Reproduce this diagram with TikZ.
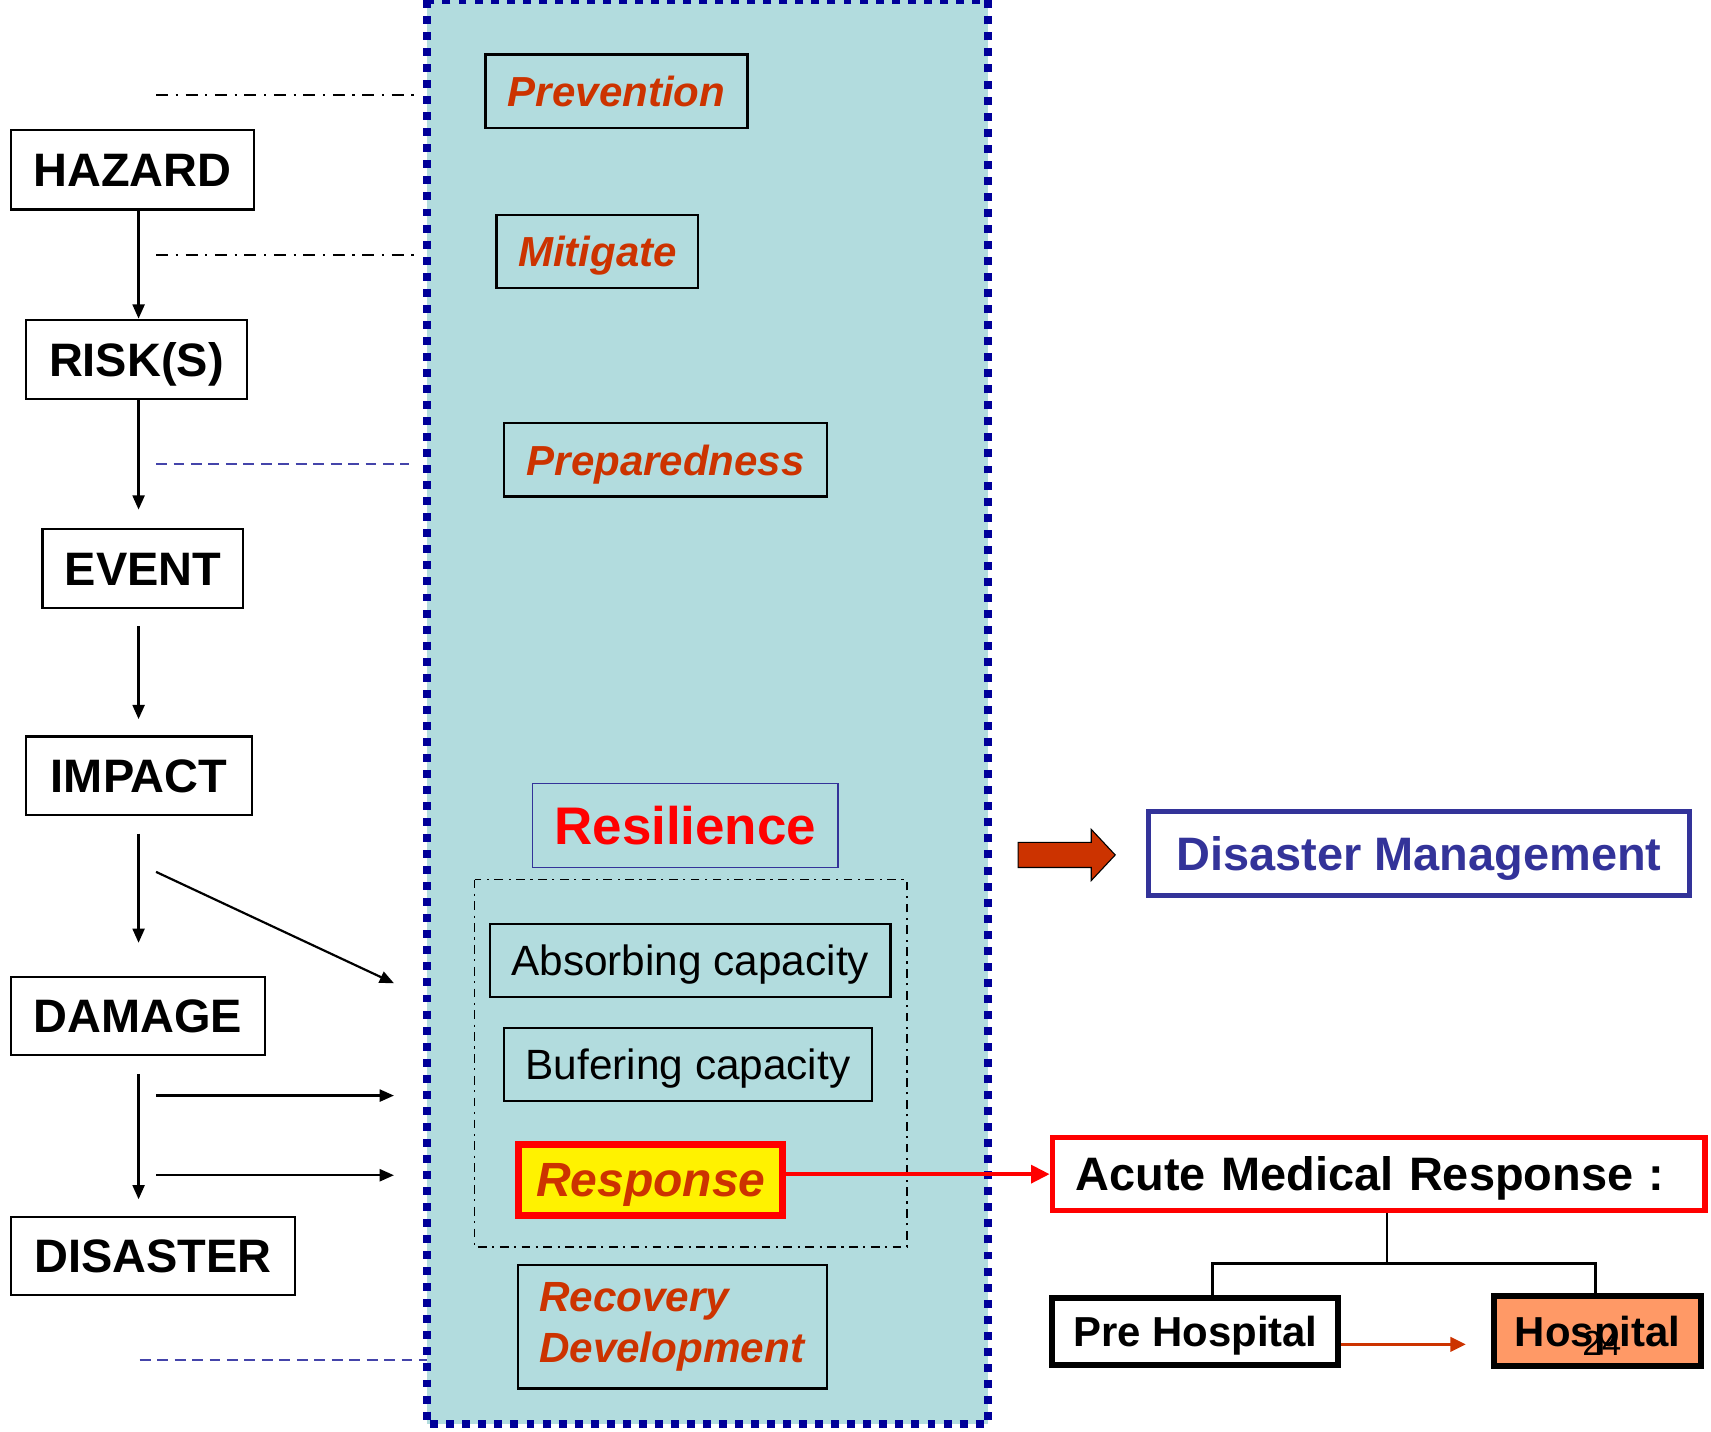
\documentclass[tikz,border=0pt]{standalone}
\usepackage{fontspec}
\setmainfont{Liberation Sans}
\usetikzlibrary{arrows.meta}
\definecolor{fr}{HTML}{000099}
\definecolor{aqua}{HTML}{B2DCDE}
\definecolor{orng}{HTML}{CC3300}
\definecolor{navy}{HTML}{333399}
\definecolor{salmon}{HTML}{FF9966}
\definecolor{dblue}{HTML}{4444AA}
\tikzset{
  wh/.style 2 args={minimum width=#1pt, minimum height=#2pt},
  cap/.style={text height=#1, text depth=0pt},
  lbox/.style={draw, line width=2pt, fill=white, inner sep=0pt, cap=30.8pt, font=\fontsize{43}{50}\selectfont\bfseries},
  ibox/.style={draw, line width=2pt, inner sep=0pt, cap=27.6pt, text=orng, font=\fontsize{38.5}{46}\selectfont\bfseries\itshape},
  cbox/.style={draw, line width=2pt, inner sep=0pt, cap=27.8pt, font=\fontsize{38.8}{46}\selectfont},
  rbox/.style={draw, line width=5.5pt, inner sep=0pt, cap=27.5pt, font=\fontsize{38.4}{46}\selectfont\bfseries},
  arr/.style={line width=2pt, -{Triangle[length=13pt,width=11pt]}},
  dashdot/.style={line width=1.8pt, dash pattern=on 11pt off 7pt on 2pt off 7pt},
  bdash/.style={line width=1.8pt, dblue, dash pattern=on 10pt off 6pt},
  tree/.style={line width=2.5pt},
}
\begin{document}
\begin{tikzpicture}[x=1pt,y=-1pt]
\useasboundingbox (0,0) rectangle (1568,1312);
% central frame
\fill[aqua] (391,0) rectangle (905,1305);
\draw[fr, line width=7.3pt, dash pattern=on 7.3pt off 7.4pt] (391,0) rectangle (905,1305);

% left column
\node[lbox, wh={223}{73}] (hazard) at (121.5,155.5) {HAZARD};
\node[lbox, wh={202}{73}] (risk) at (125,329.5) {RISK(S)};
\node[lbox, wh={184}{72}] (event) at (131,521) {EVENT};
\node[lbox, wh={207}{72}] (impact) at (127.5,711) {IMPACT};
\node[lbox, wh={233}{72}] (damage) at (126.5,931) {DAMAGE};
\node[lbox, wh={260}{72}] (disaster) at (140,1151) {DISASTER};
\coordinate (ax) at (127,0);
\draw[arr] (hazard.south -| ax) -- (risk.north -| ax);
\draw[arr, shorten >=17pt] (risk.south -| ax) -- (event.north -| ax);
\draw[arr, shorten <=16pt, shorten >=15pt] (event.south -| ax) -- (impact.north -| ax);
\draw[arr, shorten <=16pt, shorten >=30pt] (impact.south -| ax) -- (damage.north -| ax);
\draw[arr, shorten <=16pt, shorten >=15pt] (damage.south -| ax) -- (disaster.north -| ax);
\coordinate (d1s) at (143,799); \coordinate (d1e) at (361,901);
\coordinate (h1s) at (143,1004); \coordinate (h1e) at (361,1004);
\coordinate (h2s) at (143,1077); \coordinate (h2e) at (361,1077);
\draw[arr] (d1s) -- (d1e);
\draw[arr] (h1s) -- (h1e);
\draw[arr] (h2s) -- (h2e);
\coordinate (l1s) at (143,87); \coordinate (l1e) at (379,87);
\coordinate (l2s) at (143,234); \coordinate (l2e) at (379,234);
\coordinate (l3s) at (143,425); \coordinate (l3e) at (375,425);
\coordinate (l4s) at (128,1246); \coordinate (l4e) at (391,1246);
\draw[dashdot] (l1s) -- (l1e);
\draw[dashdot] (l2s) -- (l2e);
\draw[bdash] (l3s) -- (l3e);
\draw[bdash] (l4s) -- (l4e);

% inner boxes
\node[ibox, wh={240}{67}] (prev) at (565,83.5) {Prevention};
\node[ibox, wh={185}{67}] (miti) at (547.5,230.5) {Mitigate};
\node[ibox, wh={296}{67}] (prep) at (610,421.5) {Preparedness};
\node[draw=navy, line width=1.5pt, inner sep=0pt, wh={280}{77}, cap=34.7pt, text=red, font=\fontsize{48.5}{56}\selectfont\bfseries] (resil) at (628,756.5) {Resilience};
\draw[line width=1.5pt, dash pattern=on 8pt off 5pt on 2pt off 5pt] (435,806) rectangle (831,1143);
\node[cbox, wh={367}{67}] (absorb) at (632.5,880.5) {Absorbing capacity};
\node[cbox, wh={337}{67}] (buffer) at (630.5,975.5) {Bufering capacity};
\node[draw=red, fill=yellow, line width=6.5pt, inner sep=0pt, wh={242}{65}, cap=31.5pt, text=orng, font=\fontsize{44}{52}\selectfont\bfseries\itshape] (resp) at (596.5,1081) {Response};
\node[draw, line width=2pt, inner sep=0pt, text=orng, wh={283}{113}, text width=245pt, align=left, font=\fontsize{38.7}{46}\selectfont\bfseries\itshape] (recov) at (616.5,1216) {Recovery\\Development};

% right side
\draw[fill=orng, line width=1pt] (933,772) -- (1000,772) -- (1000,760) -- (1022,783.5) -- (1000,807) -- (1000,795) -- (933,795) -- cycle;
\node[draw=navy, line width=5pt, inner sep=0pt, wh={496}{77}, cap=30.8pt, text=navy, font=\fontsize{43}{50}\selectfont\bfseries] (dm) at (1300.5,782) {Disaster Management};
\node[draw=red, fill=white, line width=5pt, inner sep=0pt, wh={598}{67}, text width=556pt, align=left, cap=30.8pt, font=\fontsize{43}{50}\selectfont\bfseries] (acute) at (1263.5,1076) {Acute Medical Response :};
\draw[red, line width=4pt, -{Triangle[length=17pt,width=16pt]}] (resp.east |- acute.west) -- (acute.west);
\node[rbox, fill=white, wh={262}{61}] (pre) at (1095.5,1220) {Pre Hospital};
\node[rbox, fill=salmon, wh={190}{64}] (hosp) at (1464,1220) {Hospital};
\node[inner sep=0pt, font=\fontsize{32}{36}\selectfont] (num) at (1468,1231) {24};
\coordinate (stem) at (1271,0); \coordinate (bus) at (0,1158); \coordinate (pstem) at (1111,0); \coordinate (hstem) at (1462,0);
\draw[tree] (acute.south -| stem) -- (stem |- bus);
\draw[tree] (pre.north -| pstem) -- (pstem |- bus) -- (hstem |- bus) -- (hosp.north -| hstem);
\draw[orng, line width=3pt, -{Triangle[length=14pt,width=13pt]}, shorten >=23pt] ([yshift=-12pt]pre.east) -- ([yshift=-12pt]hosp.west);
\end{tikzpicture}
\end{document}
